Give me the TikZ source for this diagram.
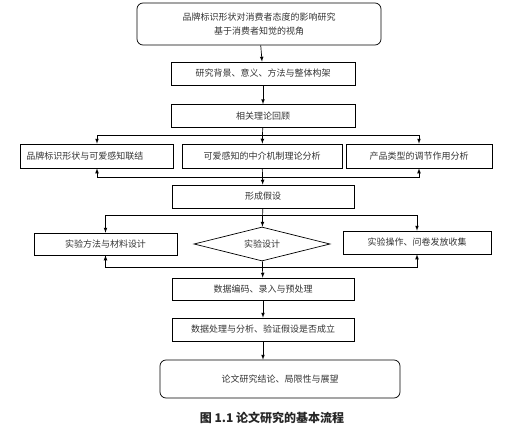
\documentclass[tikz,border=0pt]{standalone}
\usepackage{fontspec}
\setmainfont{Noto Sans CJK SC}
\usetikzlibrary{arrows,shapes.geometric}

\begin{document}
\begin{tikzpicture}[x=1pt,y=-1pt,font=\fontsize{9}{11}\selectfont,
box/.style = {draw, line width=0.7pt, inner sep=0pt, text=black!80},
rbox/.style = {box, rounded corners=6pt},
dia/.style = {box, diamond, aspect=4},
line/.style = {draw, line width=0.7pt, -latex}]
\useasboundingbox (0,0) rectangle (515,431);
\node[rbox, minimum width=244, minimum height=42, align=center] (top) at (259,24)
    {品牌标识形状对消费者态度的影响研究\\[3pt]基于消费者知觉的视角};
\node[box, minimum width=184, minimum height=23] (bg) at (263,73.5) {研究背景、意义、方法与整体构架};
\node[box, minimum width=184, minimum height=23] (lit) at (263,116) {相关理论回顾};
\node[box, minimum width=153, minimum height=24, text width=141, inner xsep=6] (link) at (97,156) {品牌标识形状与可爱感知联结};
\node[box, minimum width=160, minimum height=24] (med) at (262,156) {可爱感知的中介机制理论分析};
\node[box, minimum width=146, minimum height=24] (mod) at (419,156) {产品类型的调节作用分析};
\node[box, minimum width=182, minimum height=23] (hyp) at (263,196.5) {形成假设};
\node[box, minimum width=143, minimum height=22] (mat) at (105.5,244) {实验方法与材料设计};
\node[dia, minimum width=136, minimum height=34] (exp) at (262,244) {实验设计};
\node[box, minimum width=148, minimum height=23] (col) at (417,242.5) {实验操作、问卷发放收集};
\node[box, minimum width=182, minimum height=22] (code) at (263,289) {数据编码、录入与预处理};
\node[box, minimum width=182, minimum height=23] (ana) at (263,329.5) {数据处理与分析、验证假设是否成立};
\node[rbox, minimum width=240, minimum height=38] (end) at (280,379) {论文研究结论、局限性与展望};
\node[font=\fontsize{12}{14}\selectfont\bfseries, text=black!85] (cap) at (272,418) {图 1.1 论文研究的基本流程};

\coordinate (s1) at (262,135);
\coordinate (j1) at (262,177);
\coordinate (s2) at (262,215);
\coordinate (j2) at (262,267);

% main column
\draw[line] (top) -- (bg);
\draw[line] (bg) -- (lit);
\draw[line] (lit) -- (med);
\draw[line] (s1) -| (link);
\draw[line] (s1) -| (mod);
\draw[line] (med) -- (hyp);
\draw[line] (j1) -| (link);
\draw[line] (j1) -| (mod);
% experiment
\draw[line] (hyp) -- (exp);
\draw[line] (s2) -| (mat);
\draw[line] (s2) -| (col);
\draw[line] (exp) -- (code);
\draw[line] (j2) -| (mat);
\draw[line] (j2) -| (col);
\draw[line] (code) -- (ana);
\draw[line] (ana) -- (ana |- end.north);
\end{tikzpicture}
\end{document}
